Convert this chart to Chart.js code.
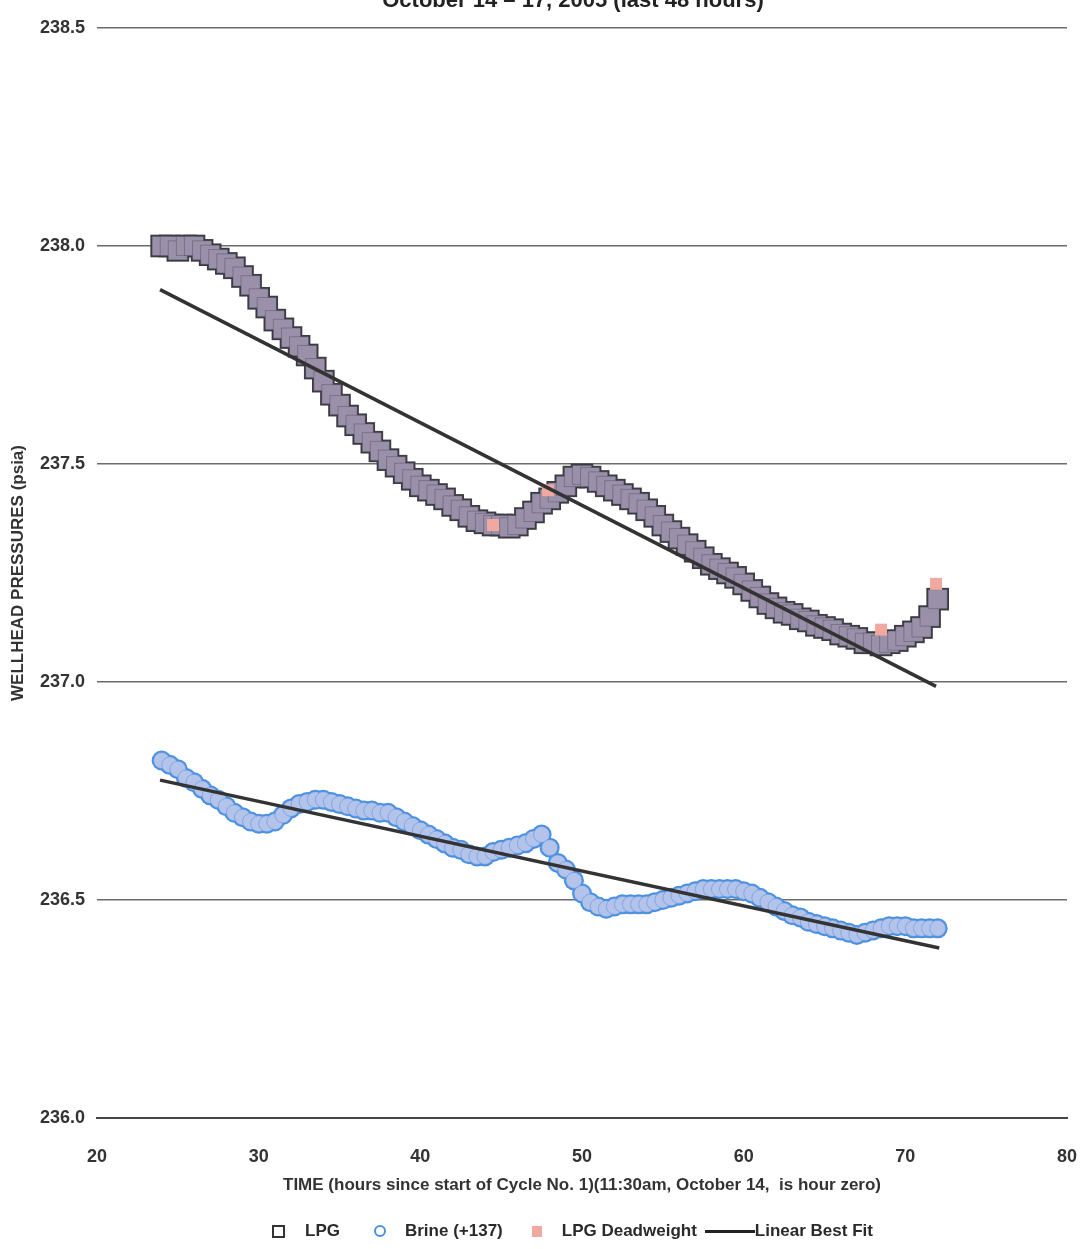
<!DOCTYPE html>
<html>
<head>
<meta charset="utf-8">
<script src="https://cdn.jsdelivr.net/npm/chart.js@4.4.1/dist/chart.umd.min.js"></script>
<style>
body { margin: 0; background: #fff; font-family: "Liberation Sans", Arial, sans-serif; }
#wrap { position: relative; width: 1083px; height: 1249px; overflow: hidden; }
#title { position: absolute; left: 0; top: -11px; width: 1083px; padding-left: 63px; box-sizing: border-box;
         text-align: center; font-weight: bold; font-size: 22px; line-height: 22px; color: #222; }
#legend { position: absolute; top: 1221px; left: 272px; display: flex; align-items: center;
          font-weight: bold; font-size: 17px; color: #2a2a2a; white-space: nowrap; }
#legend .sq { width: 9px; height: 9px; border: 2px solid #333; margin-right: 20px; }
#legend .ci { width: 8px; height: 8px; border: 2px solid #4a90e0; border-radius: 50%; margin-left: 34px; margin-right: 19px; }
#legend .dw { width: 10px; height: 11px; background: #f0a8a0; margin-left: 29px; margin-right: 20px; }
#legend .ln { width: 50px; height: 3px; background: #222; margin-left: 8px; }
</style>
</head>
<body>
<div id="wrap">
  <canvas id="chart" width="1083" height="1249"></canvas>
  <div id="title">October 14 – 17, 2005 (last 48 hours)</div>
  <div id="legend">
    <span class="sq"></span><span>LPG</span>
    <span class="ci"></span><span>Brine (+137)</span>
    <span class="dw"></span><span>LPG Deadweight</span>
    <span class="ln"></span><span>Linear Best Fit</span>
  </div>
</div>
<script>
// hours since start of Cycle No. 1 (last 48 hours, every half hour)
var hours = [
  24, 24.5, 25, 25.5, 26, 26.5, 27, 27.5, 28, 28.5,
  29, 29.5, 30, 30.5, 31, 31.5, 32, 32.5, 33, 33.5,
  34, 34.5, 35, 35.5, 36, 36.5, 37, 37.5, 38, 38.5,
  39, 39.5, 40, 40.5, 41, 41.5, 42, 42.5, 43, 43.5,
  44, 44.5, 45, 45.5, 46, 46.5, 47, 47.5, 48, 48.5,
  49, 49.5, 50, 50.5, 51, 51.5, 52, 52.5, 53, 53.5,
  54, 54.5, 55, 55.5, 56, 56.5, 57, 57.5, 58, 58.5,
  59, 59.5, 60, 60.5, 61, 61.5, 62, 62.5, 63, 63.5,
  64, 64.5, 65, 65.5, 66, 66.5, 67, 67.5, 68, 68.5,
  69, 69.5, 70, 70.5, 71, 71.5, 72
];

var lpg = [
  238.00, 238.00, 237.99, 238.00, 238.00, 237.99, 237.98, 237.97, 237.96, 237.95,
  237.93, 237.91, 237.88, 237.86, 237.83, 237.81, 237.79, 237.77, 237.75, 237.72,
  237.69, 237.66, 237.635, 237.61, 237.59, 237.57, 237.55, 237.53, 237.51, 237.495,
  237.48, 237.465, 237.45, 237.44, 237.43, 237.42, 237.405, 237.395, 237.38, 237.37,
  237.365, 237.36, 237.36, 237.355, 237.36, 237.375, 237.39, 237.41, 237.42, 237.435,
  237.45, 237.47, 237.475, 237.47, 237.46, 237.45, 237.44, 237.43, 237.42, 237.41,
  237.395, 237.38, 237.36, 237.345, 237.33, 237.315, 237.30, 237.285, 237.27, 237.26,
  237.25, 237.24, 237.225, 237.21, 237.195, 237.18, 237.17, 237.16, 237.155, 237.145,
  237.14, 237.13, 237.125, 237.12, 237.11, 237.105, 237.10, 237.09, 237.09, 237.085,
  237.09, 237.095, 237.105, 237.115, 237.125, 237.15, 237.19
];

// brine pressure with +137 offset
var brine = [
  236.82, 236.81, 236.80, 236.78, 236.77, 236.755, 236.74, 236.73, 236.715, 236.70,
  236.69, 236.68, 236.675, 236.675, 236.68, 236.695, 236.71, 236.72, 236.725, 236.73,
  236.73, 236.725, 236.72, 236.715, 236.71, 236.705, 236.705, 236.70, 236.70, 236.69,
  236.68, 236.67, 236.66, 236.65, 236.64, 236.63, 236.62, 236.615, 236.605, 236.60,
  236.60, 236.61, 236.615, 236.62, 236.625, 236.63, 236.64, 236.65, 236.62, 236.585,
  236.57, 236.545, 236.515, 236.495, 236.485, 236.48, 236.485, 236.49, 236.49, 236.49,
  236.49, 236.495, 236.50, 236.505, 236.51, 236.515, 236.52, 236.525, 236.525, 236.525,
  236.525, 236.525, 236.52, 236.515, 236.505, 236.495, 236.485, 236.475, 236.465, 236.46,
  236.45, 236.445, 236.44, 236.435, 236.43, 236.425, 236.42, 236.425, 236.43, 236.435,
  236.44, 236.44, 236.44, 236.435, 236.435, 236.435, 236.435
];

var deadweightHours = [44.5, 47.9, 68.5, 71.9];
var deadweight = [237.36, 237.44, 237.12, 237.225];

var lpgFitHours = [23.9, 71.9];
var lpgFit = [237.90, 236.99];
var brineFitHours = [23.9, 72.1];
var brineFit = [236.775, 236.39];

function pts(xs, ys) {
    return xs.map(function(x, i) { return {x: x, y: ys[i]}; });
}

var tickFont = {family: '"Liberation Sans", Arial, sans-serif', size: 18, weight: 'bold'};
var titleFont = {family: '"Liberation Sans", Arial, sans-serif', size: 17, weight: 'bold'};

new Chart(document.getElementById('chart'), {
    type: 'scatter',
    data: {
        datasets: [
            {label: 'Linear Best Fit', data: pts(lpgFitHours, lpgFit), showLine: true,
             borderColor: '#333', borderWidth: 3.5, pointRadius: 0, order: 0},
            {label: 'Linear Best Fit (brine)', data: pts(brineFitHours, brineFit), showLine: true,
             borderColor: '#333', borderWidth: 3.5, pointRadius: 0, order: 0},
            {label: 'LPG Deadweight', data: pts(deadweightHours, deadweight), pointStyle: 'rect',
             pointRadius: 8.5, backgroundColor: '#f0a8a0', borderWidth: 0, order: 1},
            {label: 'LPG', data: pts(hours, lpg), pointStyle: 'rect', pointRadius: 13.5,
             backgroundColor: '#9a90aa', borderColor: 'rgba(60,60,70,0.35)', borderWidth: 1, order: 2},
            {label: 'LPG outline', data: pts(hours, lpg), pointStyle: 'rect', pointRadius: 16,
             backgroundColor: '#3c3c44', borderWidth: 0, order: 3},
            {label: 'Brine (+137)', data: pts(hours, brine), pointStyle: 'circle', pointRadius: 8,
             backgroundColor: '#b4c3ea', borderColor: 'rgba(90,150,225,0.6)', borderWidth: 1, order: 4},
            {label: 'Brine outline', data: pts(hours, brine), pointStyle: 'circle', pointRadius: 10,
             backgroundColor: '#4a90e0', borderWidth: 0, order: 5}
        ]
    },
    options: {
        responsive: false,
        animation: false,
        layout: {padding: {top: 28, right: 14, bottom: 51, left: 0}},
        plugins: {legend: {display: false}, tooltip: {enabled: false}},
        scales: {
            x: {
                type: 'linear', min: 20, max: 80,
                ticks: {stepSize: 10, padding: 20, color: '#333', font: tickFont},
                grid: {display: false},
                border: {color: '#444', width: 2},
                title: {display: true, color: '#333', padding: {top: 0, bottom: 2}, font: titleFont,
                        text: 'TIME (hours since start of Cycle No. 1)(11:30am, October 14,  is hour zero)'},
                afterFit: function(axis) {
                    axis.height = 80;
                    axis.paddingLeft = 0;
                    axis.paddingRight = 0;
                }
            },
            y: {
                type: 'linear', min: 236, max: 238.5,
                ticks: {stepSize: 0.5, padding: 12, color: '#333', font: tickFont,
                        callback: function(v) { return v.toFixed(1); }},
                grid: {color: 'rgba(70,70,70,0.8)', lineWidth: 1.5, drawTicks: false},
                border: {display: false},
                title: {display: true, color: '#333', text: 'WELLHEAD PRESSURES (psia)',
                        padding: {top: 8, bottom: 0}, font: titleFont},
                afterFit: function(axis) { axis.width = 97; }
            }
        }
    }
});
</script>
</body>
</html>
